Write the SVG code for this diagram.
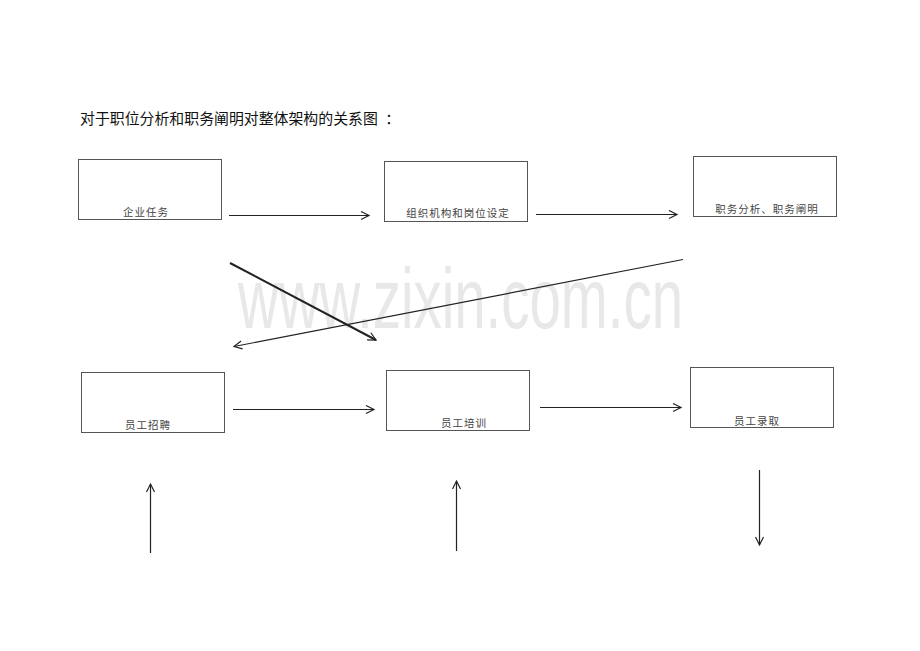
<svg xmlns="http://www.w3.org/2000/svg" width="920" height="651" viewBox="0 0 920 651">
<defs>
<marker id="arr" markerWidth="12" markerHeight="12" refX="9" refY="5" orient="auto" markerUnits="userSpaceOnUse">
<path d="M1,1 L9,5 L1,9" fill="none" stroke="#222" stroke-width="1.2"/>
</marker>
</defs>
<style>
.box{fill:#fff;stroke:#555;stroke-width:1}
.lbl{font-family:"Noto Sans CJK SC",sans-serif;font-size:10.5px;fill:#444;text-anchor:middle;letter-spacing:1px}
.ttl{font-family:"Liberation Serif","Noto Sans CJK SC",serif;font-size:14.9px;fill:#111;white-space:pre}
.ln{stroke:#222;stroke-width:1.2;fill:none;marker-end:url(#arr)}
.wm{font-family:"Liberation Sans",Arial,sans-serif;font-size:86px;fill:#e8e8e8}
</style>
<rect width="920" height="651" fill="#fff"/>
<text class="wm" x="238" y="328" textLength="445" lengthAdjust="spacingAndGlyphs">www.zixin.com.cn</text>
<text class="ttl" x="80" y="124" xml:space="preserve">对于职位分析和职务阐明对整体架构的关系图  ：</text>
<g id="n1"><rect class="box" x="78.5" y="159.5" width="143" height="60"/><text class="lbl" x="146" y="216">企业任务</text></g>
<g id="n2"><rect class="box" x="384.5" y="161.5" width="143" height="60"/><text class="lbl" x="458" y="217">组织机构和岗位设定</text></g>
<g id="n3"><rect class="box" x="693.5" y="156.5" width="143" height="60"/><text class="lbl" x="767" y="213">职务分析、职务阐明</text></g>
<g id="n4"><rect class="box" x="81.5" y="372.5" width="143" height="60"/><text class="lbl" x="148" y="429">员工招聘</text></g>
<g id="n5"><rect class="box" x="386.5" y="370.5" width="143" height="60"/><text class="lbl" x="464" y="427">员工培训</text></g>
<g id="n6"><rect class="box" x="690.5" y="367.5" width="143" height="60"/><text class="lbl" x="757" y="425">员工录取</text></g>
<g id="connectors">
<line class="ln" x1="229" y1="215.5" x2="369" y2="215.5"/>
<line class="ln" x1="536" y1="214.5" x2="677" y2="214.5"/>
<line class="ln" x1="233" y1="409.5" x2="374" y2="409.5"/>
<line class="ln" x1="540" y1="407.5" x2="681" y2="407.5"/>
<line class="ln" x1="230" y1="263" x2="376" y2="340" style="stroke-width:2"/>
<line class="ln" x1="683" y1="259.5" x2="234" y2="346.5"/>
<line class="ln" x1="150.5" y1="553" x2="150.5" y2="484"/>
<line class="ln" x1="456.5" y1="551" x2="456.5" y2="481"/>
<line class="ln" x1="759.5" y1="470" x2="759.5" y2="545"/>
</g>
</svg>
